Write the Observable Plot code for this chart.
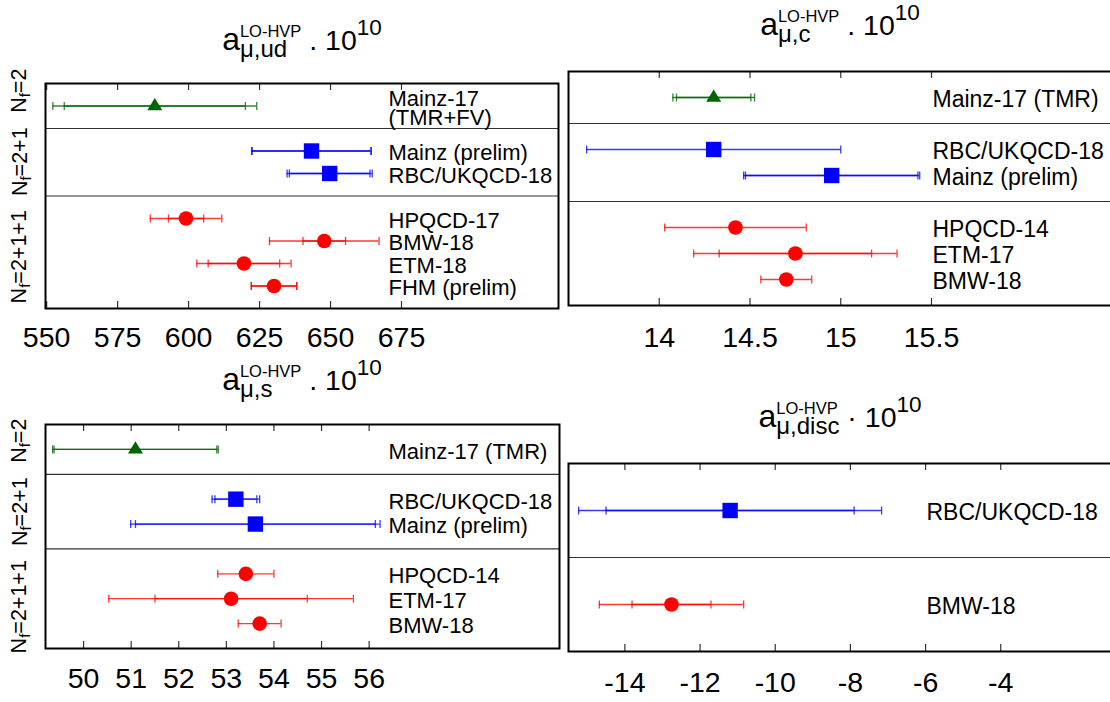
<!DOCTYPE html>
<html><head><meta charset="utf-8">
<script src="https://cdn.jsdelivr.net/npm/d3@7"></script>
<script src="https://cdn.jsdelivr.net/npm/@observablehq/plot@0.6"></script>
<style>
html,body{margin:0;padding:0;background:#fff;}
#fig{position:relative;width:1110px;height:702px;overflow:hidden;background:#fff;font-family:"Liberation Sans",Arial,Helvetica,sans-serif;color:#000;}
.panel{position:absolute;}
.panel svg{display:block;}
.title{position:absolute;left:0;top:0;white-space:nowrap;line-height:1;}
.title .bl{display:inline-block;width:0;height:0;}
.title .a{font-size:32px;}
.title .ss{display:inline-grid;vertical-align:-6.7px;}
.title .ss>span{grid-area:1/1;align-self:start;justify-self:start;line-height:1;}
.title .sub{font-size:24px;}
.title .sup{font-size:16.5px;transform:translateY(-14.3px);}
.title .m{font-size:28.5px;}
.title .s10{font-size:22.5px;vertical-align:15px;}
.glab{position:absolute;left:0;top:0;white-space:nowrap;line-height:1;font-size:21.5px;}
.glab sub{font-size:15px;vertical-align:-4px;line-height:0;}
</style></head><body><div id="fig"></div><script>
// ---------- data ----------
const groupNames = ["2", "2+1", "2+1+1"];
const groupColors = ["#006400", "#0000ff", "#ff0000"];

// a_mu,ud
const udLabels = ["Mainz-17\n(TMR+FV)", "Mainz (prelim)", "RBC/UKQCD-18", "HPQCD-17", "BMW-18", "ETM-18", "FHM (prelim)"];
const udGroups = ["2", "2+1", "2+1", "2+1+1", "2+1+1", "2+1+1", "2+1+1"];
const udValues = [588.1, 643.3, 649.7, 599.1, 647.8, 619.5, 630.1];
const udStat   = [31.9, 21.0, 14.2, 6.2, 7.5, 12.6, 8.0];
const udTotal  = [35.9, 21.0, 15.0, 12.6, 19.3, 16.6, 8.0];
const udTicks  = [550, 575, 600, 625, 650, 675];

// a_mu,c
const cLabels = ["Mainz-17 (TMR)", "RBC/UKQCD-18", "Mainz (prelim)", "HPQCD-14", "ETM-17", "BMW-18"];
const cGroups = ["2", "2+1", "2+1", "2+1+1", "2+1+1", "2+1+1"];
const cValues = [14.30, 14.30, 14.95, 14.42, 14.75, 14.70];
const cStat   = [0.205, 0, 0.475, 0, 0.42, 0];
const cTotal  = [0.225, 0.70, 0.485, 0.39, 0.56, 0.14];
const cTicks  = [14, 14.5, 15, 15.5];

// a_mu,s
const sLabels = ["Mainz-17 (TMR)", "RBC/UKQCD-18", "Mainz (prelim)", "HPQCD-14", "ETM-17", "BMW-18"];
const sGroups = ["2", "2+1", "2+1", "2+1+1", "2+1+1", "2+1+1"];
const sValues = [51.09, 53.20, 53.61, 53.41, 53.10, 53.70];
const sStat   = [1.71, 0.44, 2.52, 0, 1.60, 0];
const sTotal  = [1.74, 0.50, 2.62, 0.59, 2.57, 0.45];
const sTicks  = [50, 51, 52, 53, 54, 55, 56];

// a_mu,disc
const dLabels = ["RBC/UKQCD-18", "BMW-18"];
const dGroups = ["2+1", "2+1+1"];
const dValues = [-11.2, -12.76];
const dStat   = [3.3, 1.05];
const dTotal  = [4.03, 1.92];
const dTicks  = [-14, -12, -10, -8, -6, -4];

// ---------- symbols ----------
const capSym = {draw(ctx, size) { const h = Math.sqrt(size / Math.PI); ctx.moveTo(0, -h); ctx.lineTo(0, h); }};
const squareSym = {draw(ctx, size) { const h = Math.sqrt(size / Math.PI); ctx.rect(-h, -h, 2 * h, 2 * h); }};
const triSym = {draw(ctx, size) { const h = Math.sqrt(size / Math.PI); ctx.moveTo(0, -1.08 * h); ctx.lineTo(h, 0.55 * h); ctx.lineTo(-h, 0.55 * h); ctx.closePath(); }};
const FONT = '"Liberation Sans", Arial, Helvetica, sans-serif';
const colorOf = g => groupColors[groupNames.indexOf(g)];

const fig = document.getElementById("fig");

function buildPanel(cfg) {
  const data = cfg.labels.map((label, i) => ({label, v: cfg.values[i], s: cfg.stat[i], t: cfg.total[i], g: cfg.groups[i]}));
  let gi = -1, prev = null;
  data.forEach((d, i) => { if (d.g !== prev) { gi++; prev = d.g; } d.row = i + 1 + gi; });
  const dividers = data.filter((d, i) => i > 0 && d.g !== data[i - 1].g).map(d => d.row - 1);
  const yMax = data[data.length - 1].row + 1;
  const innerH = cfg.height - cfg.mt - cfg.mb;
  const inner = data.filter(d => d.s > 0);
  const caps = data.flatMap(d => {
    const c = [{x: d.v - d.t, row: d.row, g: d.g}, {x: d.v + d.t, row: d.row, g: d.g}];
    if (d.s > 0) c.push({x: d.v - d.s, row: d.row, g: d.g}, {x: d.v + d.s, row: d.row, g: d.g});
    return c;
  });
  const ew = 1.3, eo = 0.78;
  const plot = Plot.plot({
    width: cfg.width, height: cfg.height,
    marginLeft: cfg.ml, marginRight: cfg.mr, marginTop: cfg.mt, marginBottom: cfg.mb,
    x: {domain: cfg.xDomain, label: null},
    y: {domain: [0, yMax], reverse: true, axis: null},
    color: {type: "identity"},
    style: {fontFamily: FONT, fontSize: cfg.tickFont + "px", color: "#000", background: "transparent", overflow: "visible", maxWidth: "none"},
    marks: [
      Plot.ruleY(dividers, {stroke: "#333", strokeWidth: 1.2}),
      Plot.tickX(cfg.ticks, {x: d => d, stroke: "#333", strokeWidth: 1.2, insetBottom: innerH - 7}),
      Plot.tickX(cfg.ticks, {x: d => d, stroke: "#333", strokeWidth: 1.2, insetTop: innerH - 7}),
      Plot.frame({stroke: "#000", strokeWidth: 2}),
      Plot.axisX(cfg.ticks, {anchor: "bottom", tickSize: 0, tickPadding: cfg.tickPadding, fontSize: cfg.tickFont, label: null, tickFormat: d => String(d)}),
      Plot.ruleY(data, {y: "row", x1: d => d.v - d.t, x2: d => d.v + d.t, stroke: d => colorOf(d.g), strokeWidth: ew, strokeOpacity: eo}),
      Plot.ruleY(inner, {y: "row", x1: d => d.v - d.s, x2: d => d.v + d.s, stroke: d => colorOf(d.g), strokeWidth: ew, strokeOpacity: eo}),
      Plot.dot(caps, {x: "x", y: "row", symbol: capSym, r: 4, fill: "none", stroke: d => colorOf(d.g), strokeWidth: ew, strokeOpacity: eo}),
      Plot.dot(data.filter(d => d.g === "2"), {x: "v", y: "row", symbol: triSym, r: 7.5, fill: colorOf("2"), stroke: "none"}),
      Plot.dot(data.filter(d => d.g === "2+1"), {x: "v", y: "row", symbol: squareSym, r: 7.7, fill: colorOf("2+1"), stroke: "none"}),
      Plot.dot(data.filter(d => d.g === "2+1+1"), {x: "v", y: "row", symbol: "circle", r: 7.3, fill: colorOf("2+1+1"), stroke: "none"}),
      Plot.text(data, {y: "row", text: "label", frameAnchor: "left", textAnchor: "start", dx: cfg.labelDx, dy: 3.5, fontSize: cfg.labelFont, lineHeight: 0.84, fill: "#000"})
    ]
  });
  const wrap = document.createElement("div");
  wrap.className = "panel";
  wrap.style.left = cfg.left + "px";
  wrap.style.top = cfg.top + "px";
  wrap.style.width = cfg.width + "px";
  wrap.style.height = cfg.height + "px";
  wrap.appendChild(plot);
  fig.appendChild(wrap);
}

buildPanel({labels: udLabels, groups: udGroups, values: udValues, stat: udStat, total: udTotal, ticks: udTicks,
  xDomain: [549.6, 730.3], left: 0, top: 0, width: 563, height: 350, ml: 45, mr: 5, mt: 83, mb: 42,
  tickFont: 28.5, tickPadding: 18, labelFont: 22, labelDx: 343});
buildPanel({labels: cLabels, groups: cGroups, values: cValues, stat: cStat, total: cTotal, ticks: cTicks,
  xDomain: [13.5, 16.5], left: 563, top: 0, width: 555, height: 350, ml: 5, mr: 5.5, mt: 71, mb: 45,
  tickFont: 28.5, tickPadding: 21, labelFont: 23, labelDx: 364});
buildPanel({labels: sLabels, groups: sGroups, values: sValues, stat: sStat, total: sTotal, ticks: sTicks,
  xDomain: [49.2, 60], left: 0, top: 351, width: 563, height: 351, ml: 45, mr: 4, mt: 73, mb: 54,
  tickFont: 28.5, tickPadding: 19, labelFont: 22, labelDx: 343});
buildPanel({labels: dLabels, groups: dGroups, values: dValues, stat: dStat, total: dTotal, ticks: dTicks,
  xDomain: [-15.5, -1], left: 563, top: 351, width: 555, height: 351, ml: 5, mr: 5, mt: 112, mb: 51,
  tickFont: 28.5, tickPadding: 20.7, labelFont: 23, labelDx: 358});

// ---------- titles ----------
function addTitle(sub, dot, cx, baseline) {
  const t = document.createElement("div");
  t.className = "title";
  t.innerHTML = '<span class="bl"></span><span class="a">a</span><span class="ss"><span class="sub">' + sub +
    '</span><span class="sup">LO-HVP</span></span><span class="m">&nbsp;' + dot + '&nbsp;10</span><span class="s10">10</span>';
  fig.appendChild(t);
  const fr = fig.getBoundingClientRect();
  const br = t.querySelector(".bl").getBoundingClientRect();
  const tr = t.getBoundingClientRect();
  t.style.top = (baseline - (br.top - fr.top)) + "px";
  t.style.left = (cx - tr.width / 2) + "px";
}
addTitle("μ,ud", ".", 302, 50);
addTitle("μ,c", ".", 840, 35);
addTitle("μ,s", ".", 302, 390);
addTitle("μ,disc", "·", 840, 427);

// ---------- N_f group labels ----------
function addGroupLabel(txt, cx, cy) {
  const g = document.createElement("div");
  g.className = "glab";
  g.innerHTML = "N<sub>f</sub>=" + txt;
  fig.appendChild(g);
  const r = g.getBoundingClientRect();
  g.style.left = (cx - r.width / 2) + "px";
  g.style.top = (cy - r.height / 2) + "px";
  g.style.transform = "rotate(-90deg)";
}
addGroupLabel(groupNames[0], 20, 91);
addGroupLabel(groupNames[1], 20, 162);
addGroupLabel(groupNames[2], 20, 257);
addGroupLabel(groupNames[0], 20, 441);
addGroupLabel(groupNames[1], 20, 512);
addGroupLabel(groupNames[2], 20, 607);
</script></body></html>
